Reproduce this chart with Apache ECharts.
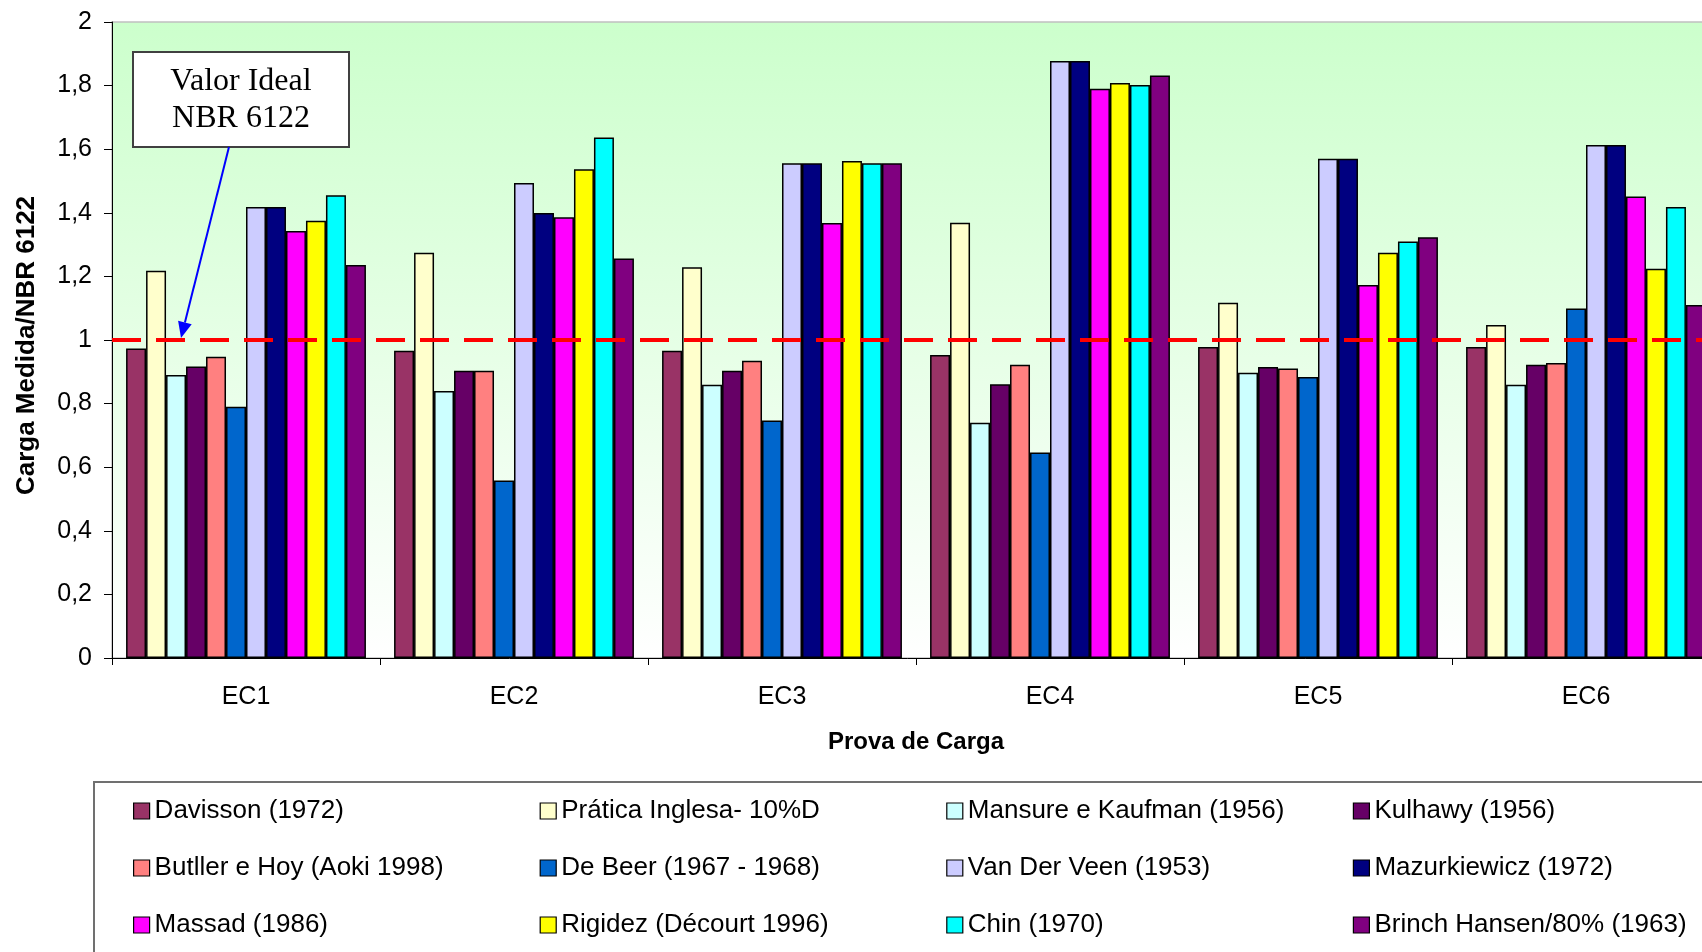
<!DOCTYPE html>
<html>
<head>
<meta charset="utf-8">
<title>Carga Medida/NBR 6122</title>
<script src="https://cdn.jsdelivr.net/npm/echarts@6/dist/echarts.min.js"></script>
<style>
  html, body { margin: 0; padding: 0; background: #ffffff; }
  #chart { width: 1702px; height: 952px; }
</style>
</head>
<body>
<div id="chart"></div>
<script>
// Load tests (x axis) and tick labels (y axis, comma decimals)
const categories = ['EC1', 'EC2', 'EC3', 'EC4', 'EC5', 'EC6'];
const yTickLabels = ['0', '0,2', '0,4', '0,6', '0,8', '1', '1,2', '1,4', '1,6', '1,8', '2'];

// Ratio of measured load to NBR 6122 load, one array per method
const davisson     = [0.973, 0.966, 0.966, 0.953, 0.978, 0.978];
const praticaIng   = [1.218, 1.274, 1.229, 1.369, 1.117, 1.047];
const mansure      = [0.890, 0.840, 0.859, 0.740, 0.897, 0.859];
const kulhawy      = [0.917, 0.903, 0.903, 0.861, 0.915, 0.922];
const butller      = [0.947, 0.903, 0.935, 0.922, 0.910, 0.928];
const deBeer       = [0.790, 0.558, 0.747, 0.646, 0.884, 1.099];
const vanDerVeen   = [1.418, 1.494, 1.556, 1.877, 1.570, 1.613];
const mazurkiewicz = [1.418, 1.399, 1.556, 1.877, 1.570, 1.613];
const massad       = [1.343, 1.386, 1.368, 1.790, 1.173, 1.451];
const rigidez      = [1.375, 1.537, 1.563, 1.808, 1.274, 1.224];
const chin         = [1.455, 1.637, 1.556, 1.802, 1.310, 1.418];
const brinchHansen = [1.236, 1.256, 1.556, 1.832, 1.323, 1.110];

// Reference value drawn as the dashed line
const idealValue = 1;

const methodNames = [
  'Davisson (1972)', 'Prática Inglesa- 10%D', 'Mansure e Kaufman (1956)', 'Kulhawy (1956)',
  'Butller e Hoy (Aoki 1998)', 'De Beer (1967 - 1968)', 'Van Der Veen (1953)', 'Mazurkiewicz (1972)',
  'Massad (1986)', 'Rigidez (Décourt 1996)', 'Chin (1970)', 'Brinch Hansen/80% (1963)'
];
const methodValues = [
  davisson, praticaIng, mansure, kulhawy,
  butller, deBeer, vanDerVeen, mazurkiewicz,
  massad, rigidez, chin, brinchHansen
];
const methodColors = [
  '#993366', '#FFFFCC', '#CCFFFF', '#660066',
  '#FF8080', '#0066CC', '#CCCCFF', '#000080',
  '#FF00FF', '#FFFF00', '#00FFFF', '#800080'
];

const FONT = '"Liberation Sans", Arial, sans-serif';
const SERIF = '"Liberation Serif", "Times New Roman", serif';

const chart = echarts.init(document.getElementById('chart'), null, { renderer: 'canvas' });

const barSeries = methodNames.map((name, i) => ({
  name: name,
  type: 'bar',
  data: methodValues[i],
  barGap: '0%',
  barCategoryGap: '10.5%',
  itemStyle: { color: methodColors[i], borderColor: '#000000', borderWidth: 1.5 },
  emphasis: { disabled: true },
  animation: false
}));

// Dashed reference line at the ideal ratio
barSeries.push({
  name: 'ideal',
  type: 'line',
  data: [],
  z: 10,
  silent: true,
  animation: false,
  markLine: {
    silent: true,
    symbol: ['none', 'none'],
    animation: false,
    label: { show: false },
    lineStyle: { color: '#FF0000', width: 4, type: [29, 15] },
    data: [{ yAxis: idealValue }]
  }
});

chart.setOption({
  animation: false,
  backgroundColor: '#ffffff',
  grid: {
    left: 112,
    top: 22,
    width: 1608,
    height: 636,
    outerBoundsMode: 'none',
    containLabel: false,
    show: true,
    borderColor: '#c0c0c0',
    borderWidth: 1.5,
    backgroundColor: new echarts.graphic.LinearGradient(0, 0, 0, 1, [
      { offset: 0, color: '#CCFFCC' },
      { offset: 1, color: '#FFFFFF' }
    ])
  },
  xAxis: {
    type: 'category',
    data: categories,
    name: 'Prova de Carga',
    nameLocation: 'middle',
    nameGap: 72,
    nameTextStyle: { fontFamily: FONT, fontSize: 24, fontWeight: 'bold', color: '#000' },
    axisLine: { lineStyle: { color: '#000', width: 1 } },
    axisTick: { show: true, length: 7, lineStyle: { color: '#000' } },
    axisLabel: { fontFamily: FONT, fontSize: 25, color: '#000', margin: 27 },
    splitLine: { show: false }
  },
  yAxis: {
    type: 'value',
    min: 0,
    max: 2,
    interval: 0.2,
    name: 'Carga Medida/NBR 6122',
    nameLocation: 'middle',
    nameRotate: 90,
    nameGap: 72,
    nameTextStyle: {
      fontFamily: FONT, fontSize: 26, fontWeight: 'bold', color: '#000',
      padding: [0, 11, 0, 0]
    },
    axisLine: { show: true, lineStyle: { color: '#000', width: 1 } },
    axisTick: { show: true, length: 8, lineStyle: { color: '#000' } },
    axisLabel: {
      fontFamily: FONT, fontSize: 25, color: '#000', margin: 20,
      formatter: (v) => yTickLabels[Math.round(v / 0.2)]
    },
    splitLine: { show: false }
  },
  legend: {
    data: methodNames,
    left: 133,
    top: 798,
    width: 1600,
    padding: 0,
    orient: 'horizontal',
    itemWidth: 16,
    itemHeight: 16,
    itemGap: 31,
    icon: 'rect',
    selectedMode: false,
    itemStyle: { borderColor: '#000', borderWidth: 1.2 },
    textStyle: { fontFamily: FONT, fontSize: 26, color: '#000', width: 354, lineHeight: 26 }
  },
  series: barSeries
});

// Legend frame, annotation box and its arrow pointing at the ideal line
const yIdeal = chart.convertToPixel({ yAxisIndex: 0 }, idealValue);
const arrowStart = [229, 147];
const arrowTip = [181, yIdeal - 2];
const dx = arrowTip[0] - arrowStart[0];
const dy = arrowTip[1] - arrowStart[1];
const len = Math.sqrt(dx * dx + dy * dy);
const ux = dx / len, uy = dy / len;
const headLen = 16, headHalf = 7;
const base = [arrowTip[0] - ux * headLen, arrowTip[1] - uy * headLen];

chart.setOption({
  graphic: [
    {
      type: 'rect',
      z: 0,
      silent: true,
      shape: { x: 94, y: 782, width: 1700, height: 300 },
      style: { fill: '#ffffff', stroke: '#707070', lineWidth: 2 }
    },
    {
      type: 'rect',
      z: 20,
      silent: true,
      shape: { x: 133, y: 52, width: 216, height: 95 },
      style: { fill: '#ffffff', stroke: '#404040', lineWidth: 2 }
    },
    {
      type: 'text',
      z: 21,
      silent: true,
      x: 241,
      y: 100,
      style: {
        text: 'Valor Ideal\nNBR 6122',
        font: '32px ' + SERIF,
        lineHeight: 37,
        fill: '#000',
        align: 'center',
        verticalAlign: 'middle'
      }
    },
    {
      type: 'line',
      z: 20,
      silent: true,
      shape: { x1: arrowStart[0], y1: arrowStart[1], x2: base[0], y2: base[1] },
      style: { stroke: '#0000FF', lineWidth: 2 }
    },
    {
      type: 'polygon',
      z: 20,
      silent: true,
      shape: {
        points: [
          arrowTip,
          [base[0] - uy * headHalf, base[1] + ux * headHalf],
          [base[0] + uy * headHalf, base[1] - ux * headHalf]
        ]
      },
      style: { fill: '#0000FF' }
    }
  ]
});
</script>
</body>
</html>
